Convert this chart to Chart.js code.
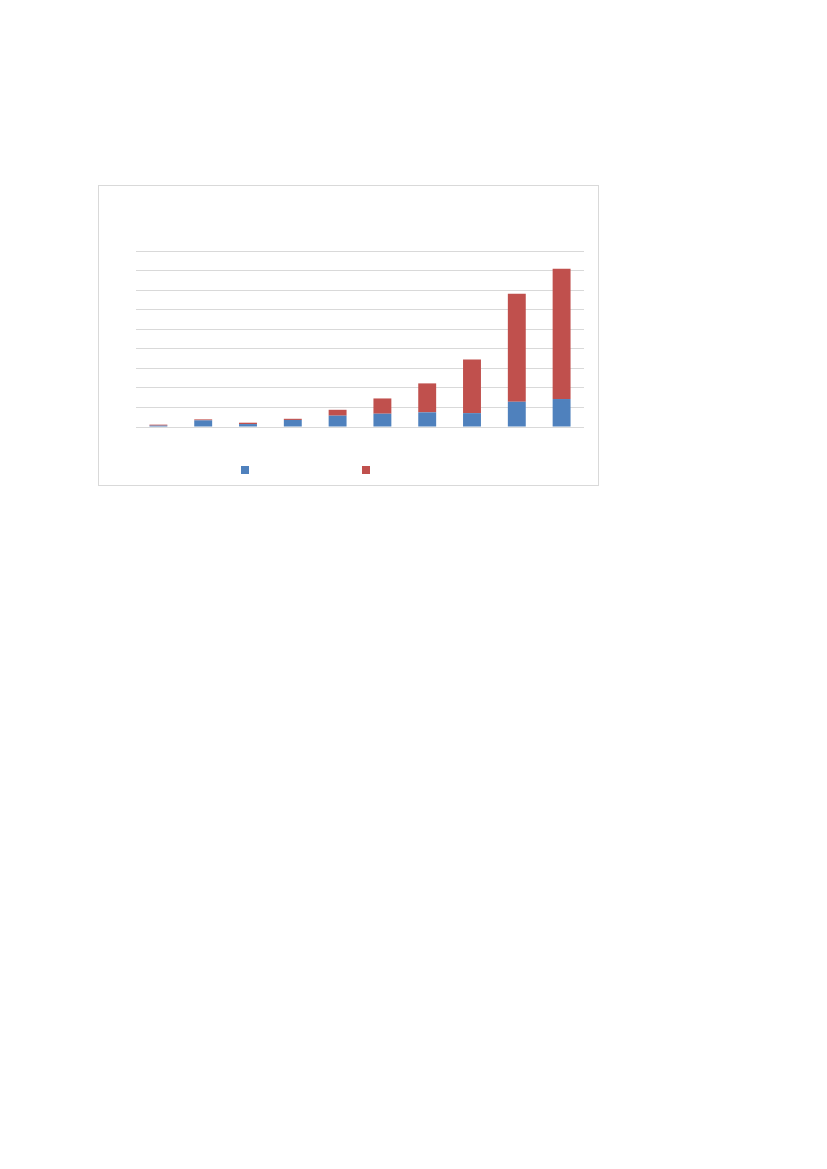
<!DOCTYPE html>
<html>
<head>
<meta charset="utf-8">
<script src="https://cdn.jsdelivr.net/npm/chart.js@4/dist/chart.umd.min.js"></script>
<style>
    html, body { margin: 0; padding: 0; background: #fff; }
    body { width: 827px; height: 1169px; position: relative; font-family: 'Liberation Sans', Arial, sans-serif; }
    .chart-box {
        position: absolute; left: 98px; top: 185px;
        width: 501px; height: 301px;
        box-sizing: border-box; border: 1px solid #d9d9d9;
    }
    .chart-box canvas { display: block; }
    .legend { position: absolute; left: 142px; top: 280px; height: 8px; display: flex; }
    .legend .sw { width: 8px; height: 8px; margin-right: 113px; }
</style>
</head>
<body>
<div class="chart-box">
    <canvas id="chart" width="499" height="299"></canvas>
    <div id="legend" class="legend"></div>
</div>
<script>
// no text survives in the reference: categories and series names are blank
const categories = ['', '', '', '', '', '', '', '', '', ''];
const seriesNames = ['', ''];
const seriesA = [0.07, 0.34, 0.15, 0.36, 0.58, 0.68, 0.75, 0.71, 1.29, 1.43];
const seriesB = [0.05, 0.05, 0.07, 0.06, 0.30, 0.78, 1.48, 2.74, 5.53, 6.66];
const yMax = 9;
const yStep = 1;

const BLUE = '#4f81bd';
const RED = '#c0504d';
const GRID = '#d9d9d9';

// html legend built from the chart's datasets
const htmlLegend = {
    id: 'htmlLegend',
    afterUpdate(chart) {
        const box = document.getElementById('legend');
        box.innerHTML = '';
        chart.data.datasets.forEach(ds => {
            const sw = document.createElement('span');
            sw.className = 'sw';
            sw.style.background = ds.backgroundColor;
            sw.title = ds.label;
            box.appendChild(sw);
        });
    },
};

new Chart(document.getElementById('chart').getContext('2d'), {
    type: 'bar',
    data: {
        labels: categories,
        datasets: [
            { label: seriesNames[0], data: seriesA, backgroundColor: BLUE },
            { label: seriesNames[1], data: seriesB, backgroundColor: RED },
        ],
    },
    options: {
        responsive: false,
        animation: false,
        devicePixelRatio: 1,
        layout: { padding: { left: 37, right: 14, top: 65, bottom: 58 } },
        datasets: { bar: { categoryPercentage: 1, barPercentage: 0.4 } },
        plugins: {
            legend: { display: false },
            tooltip: { enabled: false },
            title: { display: false },
        },
        scales: {
            x: {
                stacked: true,
                display: false,
            },
            y: {
                stacked: true,
                min: 0,
                max: yMax,
                ticks: { display: false, stepSize: yStep },
                grid: { color: GRID, lineWidth: 1, drawTicks: false },
                border: { display: false },
            },
        },
    },
    plugins: [htmlLegend],
});
</script>
</body>
</html>
